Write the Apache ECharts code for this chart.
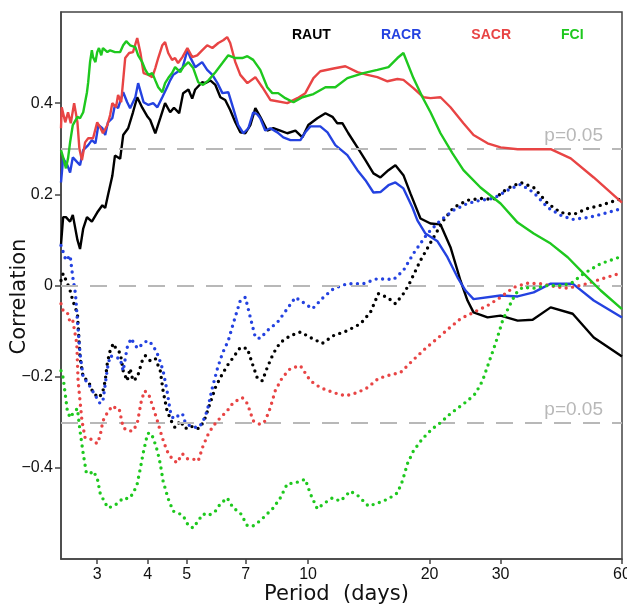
<!DOCTYPE html>
<html>
  <head>
    <meta charset="utf-8" />
    <title>Correlation vs period</title>
    <script src="https://cdn.jsdelivr.net/npm/echarts@6.0.0/dist/echarts.min.js"></script>
    <style>
      body { margin: 0; background: #fff; }
      #chart { width: 627px; height: 606px; }
    </style>
  </head>
<body>
  <div id="chart"></div>

  <script type="text/javascript">
// [period (days), correlation]
var rautSolid = [[2.44,0.09],[2.47,0.15],[2.51,0.15],[2.57,0.14],[2.61,0.155],[2.68,0.10],[2.72,0.08],[2.77,0.125],[2.83,0.15],[2.91,0.14],[3.0,0.16],[3.09,0.176],[3.14,0.17],[3.19,0.198],[3.27,0.24],[3.32,0.285],[3.42,0.278],[3.48,0.33],[3.58,0.345],[3.68,0.38],[3.77,0.413],[3.88,0.39],[4.0,0.37],[4.06,0.363],[4.18,0.334],[4.3,0.367],[4.42,0.4],[4.55,0.38],[4.65,0.39],[4.79,0.378],[4.9,0.422],[5.05,0.43],[5.16,0.41],[5.25,0.43],[5.46,0.446],[5.56,0.444],[5.72,0.45],[5.89,0.44],[6.06,0.413],[6.23,0.407],[6.41,0.385],[6.6,0.358],[6.79,0.336],[6.99,0.334],[7.19,0.352],[7.4,0.389],[7.61,0.37],[7.92,0.34],[8.2,0.345],[8.53,0.34],[8.88,0.334],[9.3,0.34],[9.68,0.325],[10.01,0.352],[10.54,0.367],[11.04,0.378],[11.49,0.37],[11.81,0.356],[12.16,0.356],[12.58,0.334],[13.25,0.303],[13.87,0.275],[14.52,0.246],[15.11,0.237],[15.82,0.253],[16.46,0.264],[17.23,0.242],[17.93,0.202],[18.99,0.147],[20.11,0.136],[21.29,0.134],[22.54,0.084],[23.86,0.011],[24.84,-0.033],[25.71,-0.059],[27.85,-0.07],[30.0,-0.066],[33.07,-0.077],[36.03,-0.075],[39.93,-0.048],[45.28,-0.062],[51.06,-0.114],[60,-0.156]];

var racrSolid = [[2.44,0.226],[2.47,0.279],[2.53,0.264],[2.57,0.248],[2.61,0.281],[2.68,0.27],[2.72,0.264],[2.77,0.297],[2.85,0.308],[2.91,0.319],[2.97,0.312],[3.02,0.352],[3.09,0.345],[3.14,0.33],[3.19,0.358],[3.27,0.367],[3.32,0.396],[3.38,0.389],[3.48,0.424],[3.56,0.402],[3.62,0.389],[3.73,0.413],[3.79,0.444],[3.91,0.402],[4.02,0.396],[4.13,0.4],[4.23,0.391],[4.35,0.413],[4.47,0.435],[4.55,0.45],[4.63,0.462],[4.73,0.468],[4.88,0.477],[5.02,0.516],[5.1,0.501],[5.25,0.479],[5.46,0.49],[5.62,0.473],[5.79,0.462],[5.96,0.444],[6.13,0.422],[6.34,0.424],[6.52,0.389],[6.71,0.352],[6.91,0.334],[7.11,0.345],[7.31,0.38],[7.49,0.375],[7.61,0.367],[7.83,0.34],[8.06,0.345],[8.39,0.336],[8.68,0.325],[9.04,0.319],[9.57,0.319],[9.84,0.336],[10.13,0.349],[10.72,0.349],[11.17,0.336],[11.68,0.308],[12.51,0.286],[13.25,0.253],[13.87,0.231],[14.52,0.204],[15.11,0.205],[15.82,0.22],[16.46,0.226],[17.23,0.213],[18.14,0.171],[18.66,0.143],[19.54,0.114],[20.93,0.097],[22.15,0.062],[23.46,0.018],[24.56,-0.011],[25.71,-0.03],[30.0,-0.022],[33.07,-0.024],[36.24,-0.015],[39.93,0.004],[45.28,0.004],[51.06,-0.033],[60,-0.07]];

var sacrSolid = [[2.44,0.345],[2.45,0.391],[2.5,0.358],[2.54,0.38],[2.58,0.356],[2.63,0.4],[2.68,0.358],[2.71,0.3],[2.75,0.275],[2.8,0.314],[2.85,0.323],[2.93,0.323],[3.0,0.358],[3.05,0.347],[3.1,0.334],[3.18,0.352],[3.23,0.374],[3.27,0.4],[3.34,0.391],[3.38,0.418],[3.44,0.402],[3.52,0.499],[3.6,0.51],[3.68,0.512],[3.77,0.543],[3.84,0.51],[3.91,0.466],[4.02,0.462],[4.11,0.457],[4.18,0.477],[4.25,0.499],[4.35,0.527],[4.42,0.534],[4.5,0.51],[4.6,0.495],[4.68,0.499],[4.76,0.488],[4.88,0.501],[5.02,0.521],[5.16,0.501],[5.31,0.505],[5.46,0.516],[5.62,0.527],[5.79,0.521],[5.99,0.532],[6.16,0.538],[6.3,0.545],[6.41,0.532],[6.6,0.49],[6.79,0.462],[7.07,0.444],[7.4,0.457],[7.7,0.435],[8.06,0.407],[8.88,0.4],[9.41,0.411],[9.84,0.422],[10.31,0.455],[10.72,0.47],[11.56,0.476],[12.37,0.481],[13.25,0.468],[14.03,0.462],[14.85,0.457],[15.73,0.448],[16.65,0.453],[17.23,0.451],[18.24,0.433],[19.32,0.413],[20.11,0.411],[21.29,0.413],[22.54,0.391],[24.27,0.356],[25.71,0.33],[27.85,0.312],[30.0,0.303],[33.07,0.299],[36.24,0.299],[39.93,0.299],[44.77,0.279],[51.06,0.237],[60,0.182]];

var fciSolid = [[2.44,0.297],[2.47,0.281],[2.51,0.257],[2.54,0.279],[2.57,0.314],[2.61,0.352],[2.68,0.37],[2.72,0.367],[2.77,0.38],[2.83,0.424],[2.85,0.446],[2.88,0.49],[2.91,0.516],[2.93,0.501],[2.97,0.49],[3.0,0.512],[3.03,0.521],[3.07,0.505],[3.1,0.521],[3.18,0.512],[3.23,0.516],[3.32,0.512],[3.42,0.512],[3.48,0.527],[3.54,0.536],[3.62,0.527],[3.73,0.523],[3.79,0.505],[3.88,0.49],[3.95,0.473],[4.02,0.462],[4.11,0.466],[4.18,0.45],[4.25,0.435],[4.35,0.424],[4.42,0.444],[4.5,0.455],[4.6,0.466],[4.68,0.479],[4.82,0.468],[4.9,0.479],[5.05,0.49],[5.19,0.477],[5.34,0.446],[5.49,0.44],[5.66,0.45],[5.89,0.468],[6.13,0.488],[6.34,0.505],[6.6,0.499],[6.87,0.499],[7.07,0.503],[7.31,0.495],[7.61,0.473],[7.92,0.435],[8.15,0.422],[8.43,0.422],[8.78,0.411],[9.2,0.402],[9.68,0.413],[10.31,0.42],[11.04,0.435],[11.68,0.435],[12.51,0.455],[13.71,0.466],[14.85,0.473],[15.82,0.479],[16.65,0.499],[17.23,0.51],[18.24,0.455],[19.21,0.413],[20.11,0.38],[21.29,0.334],[22.8,0.29],[24.27,0.253],[26.75,0.215],[30.0,0.18],[33.07,0.138],[36.24,0.114],[39.93,0.092],[44.01,0.062],[48.22,0.026],[53.14,-0.011],[60,-0.052]];

var rautDotted = [[2.44,0.011],[2.47,0.026],[2.53,0.005],[2.57,-0.011],[2.61,-0.033],[2.68,-0.062],[2.72,-0.158],[2.77,-0.202],[2.85,-0.209],[2.93,-0.235],[3.02,-0.246],[3.09,-0.237],[3.14,-0.209],[3.18,-0.169],[3.23,-0.143],[3.29,-0.127],[3.36,-0.143],[3.42,-0.147],[3.48,-0.187],[3.56,-0.209],[3.62,-0.182],[3.68,-0.209],[3.77,-0.202],[3.88,-0.165],[3.95,-0.154],[4.06,-0.165],[4.18,-0.16],[4.3,-0.187],[4.37,-0.231],[4.47,-0.275],[4.6,-0.301],[4.68,-0.312],[4.82,-0.297],[4.96,-0.314],[5.1,-0.308],[5.31,-0.314],[5.4,-0.312],[5.56,-0.29],[5.72,-0.257],[5.89,-0.224],[6.06,-0.202],[6.3,-0.176],[6.52,-0.158],[6.79,-0.136],[7.07,-0.138],[7.27,-0.171],[7.49,-0.204],[7.7,-0.209],[7.92,-0.18],[8.2,-0.149],[8.53,-0.125],[9.04,-0.11],[9.57,-0.102],[10.13,-0.114],[10.84,-0.127],[11.56,-0.11],[12.51,-0.099],[13.48,-0.084],[14.27,-0.059],[14.93,-0.018],[15.73,-0.026],[16.46,-0.04],[17.23,-0.018],[17.73,0.0],[18.99,0.055],[20.45,0.105],[21.66,0.143],[22.93,0.171],[24.84,0.187],[26.75,0.191],[28.82,0.189],[31.22,0.213],[33.64,0.226],[36.24,0.215],[39.26,0.18],[42.28,0.16],[45.54,0.156],[49.34,0.169],[53.14,0.176],[60,0.191]];

var racrDotted = [[2.44,0.088],[2.51,0.055],[2.57,0.066],[2.61,0.018],[2.65,-0.018],[2.68,-0.077],[2.72,-0.149],[2.77,-0.202],[2.85,-0.215],[2.97,-0.242],[3.05,-0.259],[3.1,-0.253],[3.18,-0.182],[3.23,-0.154],[3.32,-0.158],[3.42,-0.16],[3.48,-0.187],[3.56,-0.136],[3.64,-0.116],[3.73,-0.132],[3.79,-0.138],[3.91,-0.125],[4.02,-0.121],[4.13,-0.132],[4.25,-0.154],[4.37,-0.187],[4.47,-0.231],[4.55,-0.275],[4.63,-0.292],[4.76,-0.286],[4.88,-0.281],[4.96,-0.301],[5.1,-0.308],[5.31,-0.312],[5.46,-0.303],[5.62,-0.275],[5.79,-0.224],[5.96,-0.182],[6.13,-0.149],[6.34,-0.121],[6.52,-0.084],[6.79,-0.033],[6.99,-0.026],[7.19,-0.07],[7.4,-0.114],[7.61,-0.116],[7.92,-0.099],[8.39,-0.081],[8.88,-0.051],[9.3,-0.026],[9.57,-0.033],[10.25,-0.051],[10.91,-0.026],[11.56,-0.007],[12.51,0.004],[13.71,0.004],[14.85,0.015],[16.28,0.013],[17.23,0.033],[18.24,0.07],[19.76,0.114],[21.29,0.143],[22.93,0.165],[24.84,0.18],[26.75,0.187],[28.82,0.191],[31.22,0.209],[33.64,0.222],[36.24,0.204],[39.26,0.171],[42.28,0.154],[45.28,0.145],[49.34,0.149],[53.14,0.156],[60,0.169]];

var sacrDotted = [[2.44,-0.04],[2.47,-0.055],[2.53,-0.059],[2.57,-0.081],[2.61,-0.077],[2.67,-0.127],[2.69,-0.209],[2.75,-0.297],[2.8,-0.334],[2.88,-0.336],[3.0,-0.347],[3.05,-0.33],[3.1,-0.297],[3.18,-0.279],[3.27,-0.264],[3.32,-0.268],[3.4,-0.27],[3.48,-0.312],[3.58,-0.319],[3.68,-0.319],[3.77,-0.303],[3.86,-0.253],[3.93,-0.231],[4.02,-0.237],[4.13,-0.268],[4.23,-0.297],[4.35,-0.334],[4.47,-0.363],[4.6,-0.38],[4.73,-0.389],[4.88,-0.369],[5.02,-0.38],[5.16,-0.38],[5.34,-0.385],[5.49,-0.352],[5.66,-0.325],[5.82,-0.308],[6.06,-0.29],[6.3,-0.275],[6.52,-0.257],[6.87,-0.246],[7.07,-0.259],[7.31,-0.297],[7.61,-0.305],[7.83,-0.297],[8.06,-0.268],[8.29,-0.231],[8.63,-0.202],[9.04,-0.182],[9.57,-0.176],[10.13,-0.209],[10.72,-0.224],[11.56,-0.235],[12.37,-0.242],[13.25,-0.235],[14.03,-0.224],[14.93,-0.204],[16.0,-0.196],[16.94,-0.191],[18.14,-0.165],[19.54,-0.138],[20.93,-0.116],[22.28,-0.095],[23.86,-0.073],[25.71,-0.059],[27.85,-0.044],[30.0,-0.026],[32.32,-0.004],[35.01,0.005],[37.71,0.004],[40.62,-0.002],[44.01,-0.006],[48.22,0.002],[53.14,0.014],[60,0.028]];

var fciDotted = [[2.44,-0.187],[2.47,-0.202],[2.53,-0.275],[2.57,-0.29],[2.61,-0.281],[2.68,-0.27],[2.72,-0.319],[2.77,-0.369],[2.82,-0.411],[2.88,-0.413],[2.93,-0.407],[3.0,-0.422],[3.05,-0.455],[3.12,-0.473],[3.19,-0.488],[3.29,-0.484],[3.38,-0.477],[3.48,-0.466],[3.58,-0.468],[3.68,-0.457],[3.77,-0.435],[3.84,-0.4],[3.91,-0.363],[4.0,-0.325],[4.06,-0.323],[4.13,-0.334],[4.23,-0.363],[4.3,-0.391],[4.37,-0.429],[4.5,-0.468],[4.63,-0.495],[4.76,-0.499],[4.9,-0.505],[5.05,-0.527],[5.19,-0.532],[5.34,-0.516],[5.49,-0.501],[5.66,-0.505],[5.89,-0.495],[6.06,-0.479],[6.3,-0.466],[6.52,-0.488],[6.79,-0.499],[7.07,-0.527],[7.31,-0.527],[7.61,-0.516],[7.92,-0.501],[8.2,-0.488],[8.53,-0.466],[8.88,-0.435],[9.3,-0.433],[9.84,-0.425],[10.13,-0.457],[10.54,-0.49],[10.91,-0.479],[11.49,-0.466],[12.02,-0.473],[12.73,-0.451],[13.33,-0.462],[14.11,-0.484],[14.93,-0.477],[15.82,-0.468],[16.65,-0.455],[17.13,-0.429],[17.63,-0.391],[18.24,-0.363],[19.21,-0.336],[20.34,-0.314],[21.29,-0.301],[22.54,-0.281],[23.59,-0.268],[24.84,-0.253],[26.0,-0.237],[27.06,-0.209],[28.01,-0.171],[29.15,-0.127],[30.35,-0.077],[31.41,-0.048],[32.69,-0.018],[34.03,-0.004],[36.24,-0.006],[39.26,0.0],[42.28,0.0],[44.77,0.004],[48.22,0.026],[53.14,0.048],[60,0.064]];

var names = ['RAUT', 'RACR', 'SACR', 'FCI'];
var colors = ['#000000', '#2442e0', '#e84444', '#1ec81e'];
var solidData = [rautSolid, racrSolid, sacrSolid, fciSolid];
var dottedData = [rautDotted, racrDotted, sacrDotted, fciDotted];
var periodTicks = [3, 4, 5, 7, 10, 20, 30, 60];
var corrTicks = [-0.4, -0.2, 0, 0.2, 0.4];
var sigLevel = 0.3;
var periodMin = 2.44, periodMax = 60;

function toLog(pairs) {
  return pairs.map(function (p) { return [Math.log10(p[0]), p[1]]; });
}

var series = [];
// reference lines (p=0.05 and zero)
series.push({
  name: 'ref',
  type: 'line',
  data: [],
  z: 1,
  silent: true,
  markLine: {
    silent: true,
    symbol: 'none',
    animation: false,
    lineStyle: { color: '#b8b8b8', type: [17, 12], width: 2 },
    label: {
      show: true,
      position: 'insideEndTop',
      formatter: 'p=0.05',
      color: '#b8b8b8',
      fontFamily: 'Liberation Sans',
      fontSize: 19,
      distance: [19, 3]
    },
    data: [
      { yAxis: sigLevel },
      { yAxis: 0, label: { show: false } },
      { yAxis: -sigLevel }
    ]
  }
});
names.forEach(function (n, i) {
  series.push({
    name: n,
    type: 'line',
    data: toLog(solidData[i]),
    showSymbol: false,
    z: 3 + i,
    color: colors[i],
    lineStyle: { color: colors[i], width: 2.4 }
  });
});
names.forEach(function (n, i) {
  series.push({
    name: n + ' dotted',
    type: 'line',
    data: toLog(dottedData[i]),
    showSymbol: false,
    z: 3 + i,
    color: colors[i],
    lineStyle: { color: colors[i], width: 3.4, type: [0, 6.5], cap: 'round' }
  });
});

var chart = echarts.init(document.getElementById('chart'));
var option = {
  animation: false,
  backgroundColor: '#fff',
  grid: {
    left: 61, right: 5, top: 12, bottom: 47,
    containLabel: false,
    outerBoundsMode: 'none',
    show: true, borderColor: '#444', borderWidth: 1.5
  },
  legend: {
    data: names.map(function (n, i) {
      return { name: n, textStyle: { color: colors[i] } };
    }),
    icon: 'none',
    itemWidth: 0,
    itemHeight: 10,
    itemGap: 45,
    left: 282,
    top: 23,
    width: 340,
    selectedMode: false,
    textStyle: { fontFamily: 'Liberation Sans', fontWeight: 'bold', fontSize: 14 }
  },
  xAxis: {
    type: 'value',
    min: Math.log10(periodMin),
    max: Math.log10(periodMax),
    name: 'Period  (days)',
    nameLocation: 'middle',
    nameGap: 25,
    nameMoveOverlap: false,
    nameTextStyle: { fontFamily: 'DejaVu Sans', fontSize: 21, color: '#111', padding: [0, 10, 0, 0] },
    splitLine: { show: false },
    axisLine: { onZero: false, lineStyle: { color: '#444', width: 1.5 } },
    axisTick: { customValues: periodTicks.map(Math.log10), length: 5, lineStyle: { color: '#444', width: 1.5 } },
    axisLabel: {
      customValues: periodTicks.map(Math.log10),
      formatter: function (v) { return String(Math.round(Math.pow(10, v))); },
      fontFamily: 'Liberation Sans', fontSize: 16, color: '#111', margin: 8
    }
  },
  yAxis: {
    type: 'value',
    min: -0.6,
    max: 0.6,
    name: 'Correlation',
    nameLocation: 'middle',
    nameGap: 31,
    nameMoveOverlap: false,
    nameTextStyle: { fontFamily: 'DejaVu Sans', fontSize: 21, color: '#111', padding: [0, 22, 0, 0] },
    splitLine: { show: false },
    axisLine: { onZero: false, lineStyle: { color: '#444', width: 1.5 } },
    axisTick: { customValues: corrTicks, length: 6, lineStyle: { color: '#444', width: 1.5 } },
    axisLabel: {
      customValues: corrTicks,
      formatter: function (v) {
        if (Math.abs(v) < 1e-9) return '0';
        return (v < 0 ? '\u2212' : '') + Math.abs(v).toFixed(1);
      },
      fontFamily: 'Liberation Sans', fontSize: 16, color: '#111', margin: 8
    }
  },
  series: series
};
chart.setOption(option);
</script>
</body>
</html>
